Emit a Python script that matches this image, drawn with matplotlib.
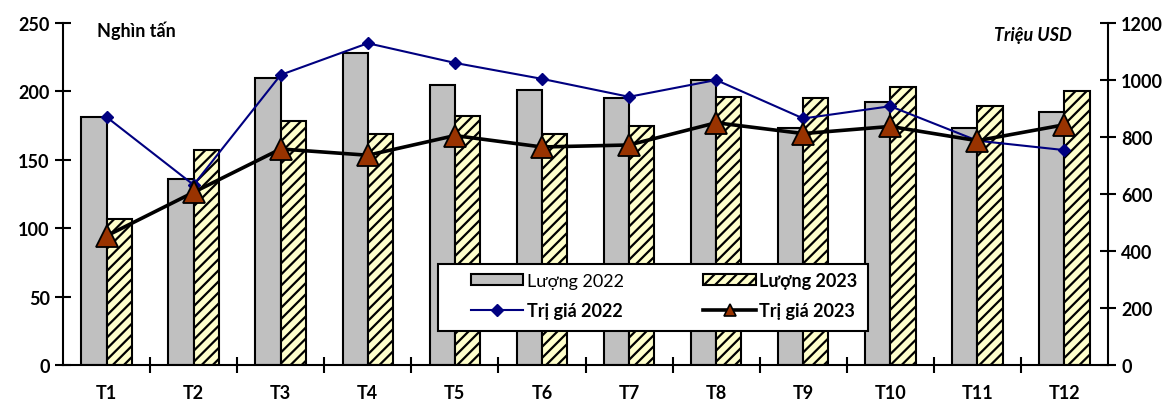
import matplotlib as mpl
import matplotlib.pyplot as plt
from matplotlib.lines import Line2D
from matplotlib.patches import Rectangle
import numpy as np

mpl.rcParams['font.family'] = ['Lato', 'Open Sans', 'DejaVu Sans']
mpl.rcParams['font.weight'] = 'bold'
mpl.rcParams['hatch.linewidth'] = 1.6
mpl.rcParams['hatch.color'] = 'black'

months = ['T1', 'T2', 'T3', 'T4', 'T5', 'T6', 'T7', 'T8', 'T9', 'T10', 'T11', 'T12']
luong_2022 = [181, 136, 210, 228, 205, 201, 195, 208, 173, 192, 173, 185]
luong_2023 = [107, 157, 178, 169, 182, 169, 175, 196, 195, 203, 189, 200]
trigia_2022 = [870, 632, 1018, 1129, 1060, 1004, 941, 1000, 865, 908, 787, 754]
trigia_2023 = [453, 606, 758, 736, 805, 765, 772, 850, 812, 837, 787, 843]

gray = '#c0c0c0'
hatch_fill = '#ffffcc'
navy = '#000080'
brown = '#993300'

fig = plt.figure(figsize=(11.72, 4.06), dpi=100)
ax = fig.add_axes([63/1172, 40/406, 1045/1172, 342/406])
ax2 = ax.twinx()

x = np.arange(len(months))
w = 0.29
b1 = ax.bar(x - w/2, luong_2022, w, color=gray, edgecolor='black', linewidth=1.5)
b2 = ax.bar(x + w/2, luong_2023, w, color=hatch_fill, edgecolor='black', linewidth=1.5,
            hatch='///')

ax2.plot(x, trigia_2022, color=navy, lw=1.5, marker='D', ms=6, mfc=navy, mec=navy)
ax2.plot(x, trigia_2023, color='black', lw=2.6, marker='^', ms=16,
         mfc=brown, mec='black', mew=1.3)

# legend markers are smaller than the plotted ones
h1 = Line2D([], [], color=navy, lw=1.5, marker='D', ms=6, mfc=navy, mec=navy)
h2 = Line2D([], [], color='black', lw=2.6, marker='^', ms=9, mfc=brown, mec='black', mew=1.2)

ax.set_xlim(-0.5, 11.5)
ax.set_ylim(0, 250)
ax.set_yticks(range(0, 251, 50))
ax2.set_ylim(0, 1200)
ax2.set_yticks(range(0, 1201, 200))

ax.set_xticks(x)
ax.set_xticklabels(months)
ax.set_xticks(np.arange(0.5, 11.5, 1), minor=True)
ax.tick_params(axis='x', which='major', length=0, pad=14, labelsize=13)
ax.tick_params(axis='x', which='minor', direction='inout', length=11, width=1.5)
ax.tick_params(axis='y', direction='inout', length=11, width=1.5, labelsize=13, pad=4)
ax2.tick_params(axis='y', direction='inout', length=11, width=1.5, labelsize=13, pad=4)

for a in (ax, ax2):
    a.spines['top'].set_visible(False)
    for s in ('left', 'right', 'bottom'):
        a.spines[s].set_linewidth(1.5)
ax.spines['right'].set_visible(False)
ax2.spines['left'].set_visible(False)
ax2.spines['bottom'].set_visible(False)

ax.text(0.033, 0.98, 'Nghìn tấn', transform=ax.transAxes, fontsize=13,
        ha='left', va='center')
ax.text(0.9655, 0.965, 'Triệu USD', transform=ax.transAxes, fontsize=13,
        style='italic', ha='right', va='center')

# legend frame drawn separately (wider left padding than matplotlib gives)
frame = Rectangle((0.3589, 0.0994), 0.4115, 0.1959, transform=ax2.transAxes,
                  facecolor='white', edgecolor='black', linewidth=1.5, zorder=5)
ax2.add_patch(frame)

leg = ax2.legend([b1, h1, b2, h2], ['Lượng 2022', 'Trị giá 2022', 'Lượng 2023', 'Trị giá 2023'],
                 ncol=2, loc='center left', bbox_to_anchor=(0.3904, 0.203, 0.370, 0),
                 mode='expand', frameon=False, fontsize=13, handlelength=2.9,
                 handleheight=0.55, handletextpad=0.2, borderpad=0,
                 labelspacing=0.75, borderaxespad=0)
leg.set_zorder(6)
leg.get_texts()[0].set_fontweight('normal')

fig.savefig('out.png', dpi=100)
